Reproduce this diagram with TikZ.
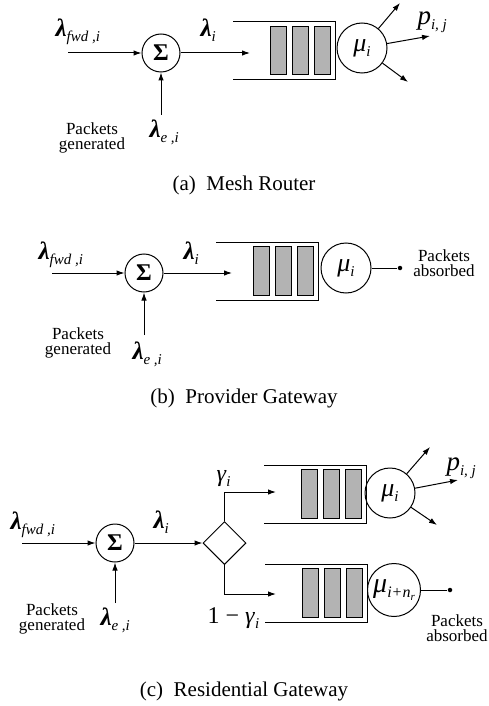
\documentclass[tikz,border=0pt]{standalone}
\usepackage{fontspec}
\setmainfont{Liberation Serif}
\usetikzlibrary{arrows.meta,shapes.geometric}
\definecolor{qgray}{RGB}{179,179,179}

% Greek rate symbols and lowered italic subscripts
\newcommand\lam{\textbf{\textit{λ}}}
\newcommand\sub[1]{\raisebox{-5pt}{\fontsize{15}{15}\selectfont\itshape #1}}

\begin{document}
\begin{tikzpicture}[x=1pt,y=-1pt,line width=1pt,
  >={Latex[length=8pt,width=5.5pt]},
  sym/.style={inner sep=0pt,font=\fontsize{25}{25}\selectfont},
  sumnode/.style={circle,draw,minimum size=38pt,inner sep=0pt,font=\fontsize{24}{24}\selectfont\bfseries},
  srv/.style={circle,draw,minimum size=50pt,inner sep=0pt,font=\fontsize{26}{26}\selectfont},
  splitter/.style={diamond,draw,minimum width=43pt,minimum height=43pt,inner sep=0pt},
  note/.style={align=center,inner sep=0pt,font=\fontsize{17}{15.5}\selectfont},
  capt/.style={inner sep=0pt,font=\fontsize{21}{21}\selectfont},
  sink/.style={circle,fill,inner sep=0pt,minimum size=4.5pt},
  pics/queue/.style={code={
    \draw (-102,0) -- (0,0) -- (0,58) -- (-102,58);
    \foreach \x in {-65,-43,-21}
      \draw[fill=qgray] (\x,4.5) rectangle ++(16,48.5);
  }}]
\useasboundingbox (0,0) rectangle (488,706);

% ---------- (a) Mesh Router ----------
\node[sumnode] (sa) at (161,53) {Σ};
\coordinate (fa) at (68,53);
\draw[->] (fa) -- (sa);
\node[sym,anchor=base west] (lfa) at (55,37) {\lam\sub{fwd ,i}};
\coordinate (qa) at (250,53);
\draw[->] (sa) -- (qa);
\node[sym,anchor=base west] (lia) at (200,37) {\lam\sub{i}};
\pic at (335,22) {queue};
\node[srv] (ma) at (362,48) {\textit{μ}\sub{i}};
\coordinate (oa1) at (400,3);
\coordinate (oa2) at (430,36);
\coordinate (oa3) at (408,82);
\draw[->] (ma) -- (oa1);
\draw[->] (ma) -- (oa2);
\draw[->] (ma) -- (oa3);
\node[sym,anchor=base west,font=\fontsize{27}{27}\selectfont] (pa) at (417,25) {\textit{p}\sub{i, j}};
\coordinate (ea) at (161,115);
\draw[->] (ea) -- (sa);
\node[sym,anchor=north west] (lea) at (149,119) {\lam\sub{e ,i}};
\node[note] (ga) at (92,138) {Packets\\generated};
\node[capt] (ca) at (244,185) {(a)\enspace Mesh Router};

% ---------- (b) Provider Gateway ----------
\node[sumnode] (sb) at (144,273) {Σ};
\coordinate (fb) at (52,273);
\draw[->] (fb) -- (sb);
\node[sym,anchor=base west] (lfb) at (38,259) {\lam\sub{fwd ,i}};
\coordinate (qb) at (232,273);
\draw[->] (sb) -- (qb);
\node[sym,anchor=base west] (lib) at (183,259) {\lam\sub{i}};
\pic at (318,242) {queue};
\node[srv] (mb) at (346,268) {\textit{μ}\sub{i}};
\node[sink] (db) at (400,268) {};
\draw (mb) -- (db);
\node[note] (ab) at (444,263) {Packets\\absorbed};
\coordinate (eb) at (144,335);
\draw[->] (eb) -- (sb);
\node[sym,anchor=north west] (leb) at (132,341) {\lam\sub{e ,i}};
\node[note] (gb) at (78,343) {Packets\\generated};
\node[capt] (cb) at (244,398) {(b)\enspace Provider Gateway};

% ---------- (c) Residential Gateway ----------
\node[sumnode] (sc) at (115,543) {Σ};
\coordinate (fc) at (22,543);
\draw[->] (fc) -- (sc);
\node[sym,anchor=base west] (lfc) at (10,529) {\lam\sub{fwd ,i}};
\node[splitter] (dc) at (224.5,543) {};
\draw[->] (sc) -- (dc);
\node[sym,anchor=base west] (lic) at (153,528) {\lam\sub{i}};
% upper branch
\coordinate (qcu) at (276,492);
\draw[->] (dc.north) |- (qcu);
\node[sym,anchor=base west,font=\fontsize{24}{24}\selectfont] (gu) at (216,481) {\textit{γ}\sub{i}};
\pic at (366,465) {queue};
\node[srv] (mc1) at (390,493) {\textit{μ}\sub{i}};
\coordinate (oc1) at (430,447);
\coordinate (oc2) at (458,480);
\coordinate (oc3) at (437,525);
\draw[->] (mc1) -- (oc1);
\draw[->] (mc1) -- (oc2);
\draw[->] (mc1) -- (oc3);
\node[sym,anchor=base west,font=\fontsize{27}{27}\selectfont] (pc) at (446,470) {\textit{p}\sub{i, j}};
% lower branch
\coordinate (qcl) at (276,594);
\draw[->] (dc.south) |- (qcl);
\pic at (367,564) {queue};
\node[sym,anchor=base west,font=\fontsize{24}{24}\selectfont] (gl) at (207,623) {1\kern6pt−\kern6pt\textit{γ}\sub{i}};
\node[srv,minimum size=53pt,font=\fontsize{28}{28}\selectfont] (mc2) at (394,590)
  {\textit{μ}\raisebox{-5pt}{\fontsize{16}{16}\selectfont\itshape i+n\raisebox{-3pt}{\fontsize{11}{11}\selectfont r}}};
\node[sink] (dk) at (450,590) {};
\draw (mc2) -- (dk);
\node[note] (ac) at (457,628) {Packets\\absorbed};
\coordinate (ec) at (115,603);
\draw[->] (ec) -- (sc);
\node[sym,anchor=north west] (lec) at (100,607) {\lam\sub{e ,i}};
\node[note] (gc) at (52,619) {Packets\\generated};
\node[capt] (cc) at (244,691) {(c)\enspace Residential Gateway};
\end{tikzpicture}
\end{document}
